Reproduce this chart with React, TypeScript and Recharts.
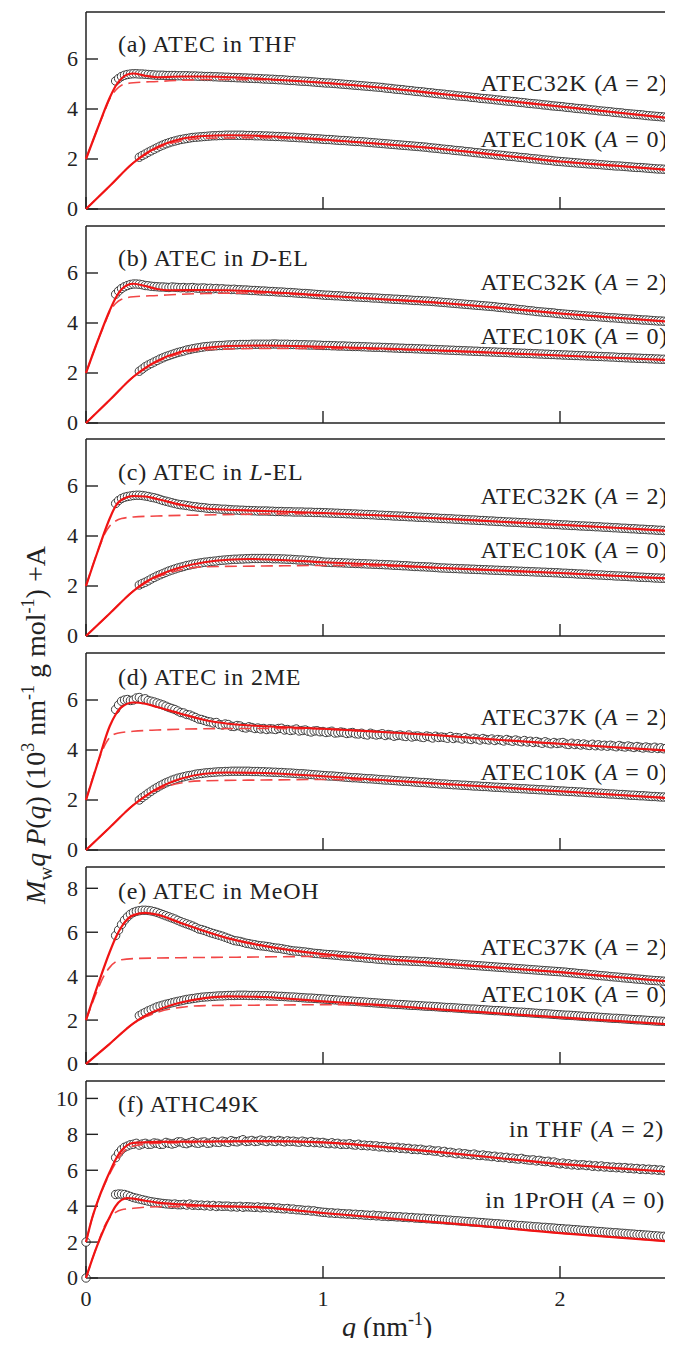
import React from 'react'
import { ComposedChart, Line, Scatter, XAxis, YAxis, ReferenceLine } from 'recharts'

const _ = null

// q of the measured points (nm^-1); first entry is the q = 0 point
const Q = [
  0,
  0.1, 0.1125, 0.125, 0.1375, 0.15, 0.1625, 0.175, 0.1875,
  0.2, 0.2125, 0.225, 0.2375, 0.25, 0.2625, 0.275, 0.2875,
  0.3, 0.3125, 0.325, 0.3375, 0.35, 0.3625, 0.375, 0.3875,
  0.4, 0.4125, 0.425, 0.4375, 0.45, 0.4625, 0.475, 0.4875,
  0.5, 0.5125, 0.525, 0.5375, 0.55, 0.5625, 0.575, 0.5875,
  0.6, 0.6125, 0.625, 0.6375, 0.65, 0.6625, 0.675, 0.6875,
  0.7, 0.7125, 0.725, 0.7375, 0.75, 0.7625, 0.775, 0.7875,
  0.8, 0.8125, 0.825, 0.8375, 0.85, 0.8625, 0.875, 0.8875,
  0.9, 0.9125, 0.925, 0.9375, 0.95, 0.9625, 0.975, 0.9875,
  1.0, 1.0125, 1.025, 1.0375, 1.05, 1.0625, 1.075, 1.0875,
  1.1, 1.1125, 1.125, 1.1375, 1.15, 1.1625, 1.175, 1.1875,
  1.2, 1.2125, 1.225, 1.2375, 1.25, 1.2625, 1.275, 1.2875,
  1.3, 1.3125, 1.325, 1.3375, 1.35, 1.3625, 1.375, 1.3875,
  1.4, 1.4125, 1.425, 1.4375, 1.45, 1.4625, 1.475, 1.4875,
  1.5, 1.5125, 1.525, 1.5375, 1.55, 1.5625, 1.575, 1.5875,
  1.6, 1.6125, 1.625, 1.6375, 1.65, 1.6625, 1.675, 1.6875,
  1.7, 1.7125, 1.725, 1.7375, 1.75, 1.7625, 1.775, 1.7875,
  1.8, 1.8125, 1.825, 1.8375, 1.85, 1.8625, 1.875, 1.8875,
  1.9, 1.9125, 1.925, 1.9375, 1.95, 1.9625, 1.975, 1.9875,
  2.0, 2.0125, 2.025, 2.0375, 2.05, 2.0625, 2.075, 2.0875,
  2.1, 2.1125, 2.125, 2.1375, 2.15, 2.1625, 2.175, 2.1875,
  2.2, 2.2125, 2.225, 2.2375, 2.25, 2.2625, 2.275, 2.2875,
  2.3, 2.3125, 2.325, 2.3375, 2.35, 2.3625, 2.375, 2.3875,
  2.4, 2.4125, 2.425, 2.4375, 2.45, 2.4625, 2.475, 2.4875,
]

// (a) ATEC in THF
const A_UP = [
  _,
  _, _, 5.12, 5.22, 5.3, 5.35, 5.38, 5.4,
  5.41, 5.41, 5.4, 5.4, 5.39, 5.38, 5.37, 5.36,
  5.35, 5.35, 5.35, 5.34, 5.34, 5.34, 5.34, 5.33,
  5.33, 5.33, 5.33, 5.32, 5.32, 5.32, 5.31, 5.31,
  5.3, 5.3, 5.3, 5.29, 5.29, 5.28, 5.28, 5.27,
  5.27, 5.26, 5.26, 5.25, 5.25, 5.24, 5.24, 5.23,
  5.23, 5.22, 5.22, 5.21, 5.2, 5.2, 5.19, 5.19,
  5.18, 5.17, 5.17, 5.16, 5.15, 5.14, 5.14, 5.13,
  5.12, 5.11, 5.11, 5.1, 5.09, 5.08, 5.07, 5.06,
  5.05, 5.04, 5.04, 5.03, 5.02, 5.01, 5.0, 4.99,
  4.98, 4.97, 4.96, 4.95, 4.94, 4.93, 4.92, 4.91,
  4.9, 4.89, 4.88, 4.87, 4.86, 4.84, 4.83, 4.82,
  4.8, 4.79, 4.78, 4.77, 4.75, 4.74, 4.73, 4.71,
  4.7, 4.69, 4.68, 4.66, 4.65, 4.64, 4.62, 4.61,
  4.6, 4.59, 4.57, 4.56, 4.55, 4.53, 4.52, 4.51,
  4.5, 4.49, 4.47, 4.46, 4.45, 4.43, 4.42, 4.41,
  4.4, 4.39, 4.37, 4.36, 4.35, 4.33, 4.32, 4.31,
  4.3, 4.29, 4.27, 4.26, 4.25, 4.23, 4.22, 4.21,
  4.2, 4.19, 4.17, 4.16, 4.15, 4.13, 4.12, 4.11,
  4.1, 4.09, 4.07, 4.06, 4.05, 4.03, 4.02, 4.01,
  4.0, 3.99, 3.97, 3.96, 3.95, 3.93, 3.92, 3.91,
  3.9, 3.89, 3.87, 3.86, 3.85, 3.84, 3.82, 3.81,
  3.8, 3.79, 3.78, 3.77, 3.76, 3.74, 3.73, 3.72,
  3.71, 3.7, 3.69, 3.68, 3.67, 3.66, 3.65, 3.64,
]
const A_LO = [
  _,
  _, _, _, _, _, _, _, _,
  _, _, 2.07, 2.14, 2.2, 2.27, 2.33, 2.39,
  2.45, 2.51, 2.56, 2.61, 2.65, 2.69, 2.72, 2.75,
  2.78, 2.8, 2.82, 2.84, 2.86, 2.87, 2.88, 2.89,
  2.9, 2.91, 2.92, 2.93, 2.93, 2.94, 2.94, 2.95,
  2.95, 2.95, 2.95, 2.95, 2.95, 2.95, 2.94, 2.94,
  2.94, 2.93, 2.93, 2.93, 2.92, 2.92, 2.91, 2.91,
  2.9, 2.9, 2.89, 2.89, 2.88, 2.87, 2.87, 2.86,
  2.85, 2.85, 2.84, 2.83, 2.82, 2.81, 2.81, 2.8,
  2.79, 2.78, 2.78, 2.77, 2.76, 2.75, 2.74, 2.74,
  2.73, 2.72, 2.71, 2.7, 2.7, 2.69, 2.68, 2.67,
  2.66, 2.65, 2.64, 2.63, 2.62, 2.61, 2.6, 2.59,
  2.58, 2.57, 2.56, 2.55, 2.54, 2.53, 2.52, 2.51,
  2.5, 2.49, 2.48, 2.47, 2.45, 2.44, 2.43, 2.42,
  2.4, 2.39, 2.38, 2.37, 2.35, 2.34, 2.33, 2.32,
  2.3, 2.29, 2.28, 2.26, 2.25, 2.24, 2.22, 2.21,
  2.2, 2.19, 2.17, 2.16, 2.15, 2.14, 2.12, 2.11,
  2.1, 2.09, 2.07, 2.06, 2.05, 2.04, 2.02, 2.01,
  2.0, 1.99, 1.97, 1.96, 1.95, 1.94, 1.92, 1.91,
  1.9, 1.89, 1.88, 1.87, 1.86, 1.85, 1.84, 1.83,
  1.82, 1.81, 1.8, 1.8, 1.79, 1.78, 1.77, 1.76,
  1.75, 1.74, 1.73, 1.72, 1.72, 1.71, 1.7, 1.69,
  1.68, 1.67, 1.66, 1.66, 1.65, 1.64, 1.63, 1.62,
  1.61, 1.6, 1.6, 1.59, 1.58, 1.57, 1.56, 1.56,
]

// (b) ATEC in D-EL
const B_UP = [
  _,
  _, _, 5.15, 5.28, 5.38, 5.45, 5.5, 5.54,
  5.56, 5.56, 5.55, 5.53, 5.5, 5.49, 5.47, 5.46,
  5.45, 5.44, 5.44, 5.43, 5.42, 5.44, 5.43, 5.42,
  5.41, 5.42, 5.4, 5.41, 5.42, 5.4, 5.39, 5.4,
  5.4, 5.38, 5.39, 5.37, 5.38, 5.36, 5.37, 5.35,
  5.35, 5.34, 5.35, 5.33, 5.33, 5.32, 5.32, 5.31,
  5.3, 5.3, 5.29, 5.28, 5.28, 5.27, 5.26, 5.26,
  5.25, 5.24, 5.24, 5.23, 5.22, 5.22, 5.21, 5.2,
  5.19, 5.18, 5.18, 5.17, 5.16, 5.15, 5.14, 5.13,
  5.12, 5.11, 5.11, 5.1, 5.09, 5.09, 5.08, 5.07,
  5.06, 5.06, 5.05, 5.04, 5.04, 5.03, 5.02, 5.02,
  5.01, 5.0, 5.0, 4.99, 4.98, 4.97, 4.97, 4.96,
  4.95, 4.95, 4.94, 4.93, 4.93, 4.92, 4.91, 4.9,
  4.9, 4.89, 4.88, 4.88, 4.87, 4.86, 4.85, 4.84,
  4.83, 4.82, 4.81, 4.8, 4.79, 4.78, 4.77, 4.76,
  4.75, 4.74, 4.73, 4.72, 4.71, 4.7, 4.69, 4.68,
  4.67, 4.66, 4.65, 4.63, 4.62, 4.61, 4.6, 4.58,
  4.57, 4.56, 4.54, 4.53, 4.52, 4.5, 4.49, 4.48,
  4.46, 4.45, 4.44, 4.43, 4.42, 4.41, 4.4, 4.38,
  4.37, 4.36, 4.35, 4.34, 4.33, 4.32, 4.31, 4.3,
  4.29, 4.28, 4.27, 4.27, 4.26, 4.25, 4.24, 4.23,
  4.22, 4.21, 4.21, 4.2, 4.19, 4.18, 4.17, 4.16,
  4.16, 4.15, 4.14, 4.13, 4.12, 4.12, 4.11, 4.1,
  4.09, 4.08, 4.08, 4.07, 4.06, 4.05, 4.04, 4.04,
]
const B_LO = [
  _,
  _, _, _, _, _, _, _, _,
  _, _, 2.07, 2.16, 2.25, 2.32, 2.38, 2.44,
  2.5, 2.56, 2.61, 2.66, 2.7, 2.74, 2.78, 2.82,
  2.85, 2.88, 2.92, 2.94, 2.97, 2.99, 3.01, 3.03,
  3.05, 3.06, 3.07, 3.08, 3.09, 3.1, 3.1, 3.11,
  3.12, 3.12, 3.13, 3.13, 3.14, 3.14, 3.14, 3.14,
  3.15, 3.15, 3.15, 3.15, 3.15, 3.15, 3.15, 3.16,
  3.16, 3.15, 3.15, 3.15, 3.15, 3.14, 3.14, 3.14,
  3.13, 3.13, 3.13, 3.12, 3.12, 3.12, 3.11, 3.11,
  3.1, 3.1, 3.1, 3.09, 3.09, 3.08, 3.08, 3.08,
  3.07, 3.07, 3.06, 3.06, 3.06, 3.05, 3.05, 3.04,
  3.04, 3.03, 3.03, 3.03, 3.02, 3.02, 3.01, 3.01,
  3.0, 3.0, 2.99, 2.99, 2.98, 2.98, 2.98, 2.97,
  2.97, 2.96, 2.96, 2.95, 2.95, 2.94, 2.94, 2.93,
  2.93, 2.92, 2.92, 2.91, 2.91, 2.9, 2.9, 2.89,
  2.89, 2.88, 2.88, 2.87, 2.87, 2.86, 2.86, 2.85,
  2.85, 2.84, 2.84, 2.83, 2.83, 2.82, 2.82, 2.81,
  2.81, 2.8, 2.8, 2.79, 2.79, 2.78, 2.78, 2.77,
  2.77, 2.76, 2.76, 2.75, 2.75, 2.74, 2.74, 2.73,
  2.73, 2.72, 2.72, 2.71, 2.71, 2.7, 2.7, 2.69,
  2.69, 2.68, 2.68, 2.67, 2.67, 2.66, 2.66, 2.65,
  2.65, 2.64, 2.64, 2.63, 2.62, 2.62, 2.61, 2.61,
  2.6, 2.6, 2.59, 2.59, 2.58, 2.58, 2.57, 2.57,
  2.56, 2.56, 2.55, 2.55, 2.54, 2.54, 2.53, 2.53,
]

// (c) ATEC in L-EL
const C_UP = [
  _,
  _, _, 5.3, 5.42, 5.5, 5.55, 5.58, 5.6,
  5.62, 5.63, 5.63, 5.62, 5.6, 5.58, 5.55, 5.53,
  5.5, 5.46, 5.42, 5.39, 5.36, 5.33, 5.3, 5.27,
  5.25, 5.24, 5.22, 5.2, 5.18, 5.17, 5.15, 5.14,
  5.13, 5.11, 5.1, 5.1, 5.09, 5.08, 5.07, 5.07,
  5.06, 5.05, 5.04, 5.04, 5.03, 5.03, 5.02, 5.02,
  5.01, 5.01, 5.0, 5.0, 5.0, 5.0, 4.99, 4.99,
  4.98, 4.98, 4.98, 4.97, 4.97, 4.97, 4.96, 4.96,
  4.96, 4.96, 4.95, 4.95, 4.95, 4.94, 4.94, 4.94,
  4.93, 4.93, 4.92, 4.92, 4.91, 4.91, 4.9, 4.9,
  4.89, 4.89, 4.88, 4.88, 4.87, 4.87, 4.86, 4.86,
  4.85, 4.85, 4.84, 4.83, 4.83, 4.82, 4.82, 4.81,
  4.8, 4.8, 4.79, 4.79, 4.78, 4.77, 4.77, 4.76,
  4.75, 4.75, 4.74, 4.74, 4.73, 4.72, 4.72, 4.71,
  4.7, 4.7, 4.69, 4.69, 4.68, 4.67, 4.67, 4.66,
  4.65, 4.65, 4.64, 4.64, 4.63, 4.62, 4.62, 4.61,
  4.6, 4.6, 4.59, 4.58, 4.58, 4.57, 4.56, 4.56,
  4.55, 4.55, 4.54, 4.53, 4.53, 4.52, 4.51, 4.51,
  4.5, 4.5, 4.49, 4.48, 4.48, 4.47, 4.46, 4.46,
  4.45, 4.44, 4.44, 4.43, 4.42, 4.42, 4.41, 4.4,
  4.4, 4.39, 4.39, 4.38, 4.37, 4.37, 4.36, 4.35,
  4.35, 4.34, 4.33, 4.33, 4.32, 4.31, 4.31, 4.3,
  4.29, 4.29, 4.28, 4.27, 4.27, 4.26, 4.25, 4.25,
  4.24, 4.23, 4.23, 4.22, 4.21, 4.21, 4.2, 4.19,
]
const C_LO = [
  _,
  _, _, _, _, _, _, _, _,
  _, _, 2.04, 2.1, 2.15, 2.21, 2.28, 2.34,
  2.4, 2.45, 2.5, 2.55, 2.6, 2.64, 2.68, 2.72,
  2.75, 2.78, 2.82, 2.84, 2.87, 2.89, 2.91, 2.93,
  2.95, 2.96, 2.98, 2.99, 3.0, 3.02, 3.03, 3.04,
  3.05, 3.06, 3.07, 3.07, 3.08, 3.08, 3.09, 3.09,
  3.1, 3.1, 3.1, 3.1, 3.1, 3.1, 3.1, 3.09,
  3.09, 3.09, 3.08, 3.08, 3.07, 3.07, 3.06, 3.05,
  3.04, 3.04, 3.03, 3.02, 3.01, 3.0, 2.99, 2.98,
  2.96, 2.95, 2.95, 2.94, 2.94, 2.93, 2.93, 2.92,
  2.92, 2.91, 2.91, 2.9, 2.9, 2.89, 2.89, 2.88,
  2.88, 2.87, 2.87, 2.86, 2.86, 2.85, 2.85, 2.84,
  2.83, 2.83, 2.82, 2.81, 2.81, 2.8, 2.79, 2.78,
  2.78, 2.77, 2.77, 2.76, 2.76, 2.75, 2.74, 2.73,
  2.72, 2.72, 2.71, 2.71, 2.7, 2.7, 2.69, 2.69,
  2.68, 2.68, 2.67, 2.67, 2.66, 2.66, 2.65, 2.65,
  2.64, 2.64, 2.63, 2.63, 2.62, 2.62, 2.61, 2.61,
  2.6, 2.6, 2.59, 2.59, 2.58, 2.58, 2.57, 2.57,
  2.56, 2.56, 2.55, 2.55, 2.54, 2.54, 2.53, 2.53,
  2.52, 2.51, 2.51, 2.5, 2.5, 2.49, 2.48, 2.48,
  2.47, 2.47, 2.46, 2.45, 2.45, 2.44, 2.44, 2.43,
  2.42, 2.42, 2.41, 2.4, 2.4, 2.39, 2.39, 2.38,
  2.37, 2.37, 2.36, 2.35, 2.35, 2.34, 2.34, 2.33,
  2.32, 2.32, 2.31, 2.31, 2.3, 2.3, 2.29, 2.29,
]

// (d) ATEC in 2ME
const D_UP = [
  _,
  _, _, 5.62, 5.8, 5.95, 6.0, 6.02, 5.98,
  6.0, 6.08, 6.1, 6.02, 6.05, 5.98, 5.95, 5.92,
  5.88, 5.84, 5.8, 5.75, 5.7, 5.66, 5.62, 5.56,
  5.5, 5.48, 5.42, 5.4, 5.35, 5.3, 5.24, 5.22,
  5.18, 5.14, 5.12, 5.08, 5.1, 5.02, 5.0, 5.04,
  5.02, 4.95, 4.94, 4.98, 4.96, 4.9, 4.88, 4.93,
  4.9, 4.86, 4.88, 4.84, 4.86, 4.82, 4.85, 4.84,
  4.82, 4.86, 4.87, 4.8, 4.82, 4.78, 4.8, 4.84,
  4.76, 4.78, 4.8, 4.75, 4.72, 4.76, 4.77, 4.73,
  4.74, 4.7, 4.72, 4.75, 4.68, 4.69, 4.72, 4.7,
  4.66, 4.68, 4.7, 4.65, 4.64, 4.67, 4.62, 4.6,
  4.67, 4.63, 4.6, 4.62, 4.65, 4.58, 4.62, 4.6,
  4.55, 4.58, 4.6, 4.56, 4.54, 4.6, 4.52, 4.55,
  4.56, 4.52, 4.5, 4.56, 4.53, 4.48, 4.55, 4.5,
  4.52, 4.5, 4.47, 4.54, 4.46, 4.5, 4.48, 4.44,
  4.5, 4.45, 4.42, 4.47, 4.44, 4.4, 4.46, 4.42,
  4.4, 4.44, 4.38, 4.42, 4.4, 4.36, 4.42, 4.38,
  4.35, 4.4, 4.36, 4.33, 4.38, 4.32, 4.35, 4.3,
  4.34, 4.3, 4.27, 4.33, 4.28, 4.25, 4.3, 4.26,
  4.28, 4.3, 4.24, 4.22, 4.27, 4.22, 4.25, 4.2,
  4.24, 4.2, 4.18, 4.23, 4.17, 4.21, 4.16, 4.19,
  4.15, 4.19, 4.16, 4.13, 4.18, 4.14, 4.12, 4.16,
  4.13, 4.1, 4.14, 4.11, 4.08, 4.12, 4.09, 4.07,
  4.11, 4.06, 4.09, 4.05, 4.08, 4.04, 4.07, 4.05,
]
const D_LO = [
  _,
  _, _, _, _, _, _, _, _,
  _, _, 2.0, 2.1, 2.18, 2.27, 2.35, 2.43,
  2.5, 2.57, 2.63, 2.69, 2.74, 2.79, 2.83, 2.87,
  2.9, 2.93, 2.96, 2.98, 3.0, 3.03, 3.05, 3.06,
  3.08, 3.09, 3.1, 3.11, 3.12, 3.13, 3.13, 3.14,
  3.14, 3.15, 3.15, 3.15, 3.15, 3.15, 3.15, 3.15,
  3.14, 3.14, 3.14, 3.13, 3.13, 3.12, 3.12, 3.11,
  3.11, 3.1, 3.1, 3.09, 3.08, 3.08, 3.07, 3.06,
  3.05, 3.05, 3.04, 3.03, 3.02, 3.01, 3.0, 2.99,
  2.98, 2.97, 2.96, 2.96, 2.95, 2.94, 2.93, 2.92,
  2.91, 2.9, 2.89, 2.89, 2.88, 2.87, 2.86, 2.85,
  2.85, 2.84, 2.83, 2.82, 2.81, 2.8, 2.8, 2.79,
  2.78, 2.77, 2.76, 2.75, 2.75, 2.74, 2.73, 2.72,
  2.71, 2.7, 2.7, 2.69, 2.68, 2.67, 2.66, 2.65,
  2.64, 2.64, 2.63, 2.62, 2.61, 2.61, 2.6, 2.59,
  2.59, 2.58, 2.57, 2.56, 2.56, 2.55, 2.54, 2.54,
  2.53, 2.52, 2.51, 2.51, 2.5, 2.49, 2.49, 2.48,
  2.47, 2.47, 2.46, 2.45, 2.45, 2.44, 2.43, 2.43,
  2.42, 2.41, 2.41, 2.4, 2.39, 2.39, 2.38, 2.37,
  2.36, 2.36, 2.35, 2.34, 2.34, 2.33, 2.32, 2.32,
  2.31, 2.3, 2.29, 2.29, 2.28, 2.27, 2.27, 2.26,
  2.25, 2.24, 2.24, 2.23, 2.22, 2.22, 2.21, 2.2,
  2.19, 2.19, 2.18, 2.17, 2.17, 2.16, 2.15, 2.14,
  2.14, 2.13, 2.12, 2.12, 2.11, 2.1, 2.1, 2.09,
]

// (e) ATEC in MeOH
const E_UP = [
  _,
  _, _, 5.85, 6.1, 6.35, 6.55, 6.7, 6.82,
  6.9, 6.95, 6.98, 7.0, 7.0, 6.99, 6.97, 6.94,
  6.9, 6.85, 6.8, 6.75, 6.7, 6.65, 6.6, 6.54,
  6.48, 6.43, 6.38, 6.33, 6.28, 6.22, 6.15, 6.12,
  6.08, 6.03, 5.98, 5.94, 5.9, 5.86, 5.82, 5.77,
  5.72, 5.67, 5.62, 5.6, 5.58, 5.54, 5.5, 5.48,
  5.45, 5.43, 5.4, 5.38, 5.37, 5.35, 5.33, 5.3,
  5.28, 5.27, 5.25, 5.22, 5.2, 5.17, 5.15, 5.14,
  5.13, 5.11, 5.1, 5.08, 5.06, 5.04, 5.03, 5.02,
  5.0, 4.99, 4.98, 4.97, 4.96, 4.95, 4.93, 4.92,
  4.91, 4.9, 4.88, 4.87, 4.86, 4.85, 4.83, 4.82,
  4.81, 4.8, 4.78, 4.77, 4.76, 4.75, 4.74, 4.73,
  4.72, 4.71, 4.71, 4.7, 4.7, 4.69, 4.68, 4.68,
  4.67, 4.66, 4.66, 4.65, 4.64, 4.63, 4.62, 4.61,
  4.6, 4.59, 4.58, 4.57, 4.56, 4.55, 4.54, 4.53,
  4.52, 4.51, 4.5, 4.49, 4.48, 4.47, 4.46, 4.45,
  4.44, 4.43, 4.42, 4.41, 4.4, 4.39, 4.38, 4.37,
  4.36, 4.35, 4.34, 4.33, 4.32, 4.31, 4.3, 4.29,
  4.28, 4.27, 4.26, 4.25, 4.24, 4.23, 4.22, 4.21,
  4.2, 4.19, 4.18, 4.16, 4.15, 4.14, 4.12, 4.11,
  4.1, 4.09, 4.07, 4.06, 4.05, 4.03, 4.02, 4.01,
  4.0, 3.98, 3.97, 3.96, 3.95, 3.93, 3.92, 3.91,
  3.9, 3.88, 3.87, 3.86, 3.85, 3.83, 3.82, 3.81,
  3.8, 3.79, 3.78, 3.77, 3.76, 3.75, 3.74, 3.73,
]
const E_LO = [
  _,
  _, _, _, _, _, _, _, _,
  _, _, 2.2, 2.28, 2.35, 2.42, 2.48, 2.54,
  2.6, 2.64, 2.68, 2.72, 2.75, 2.79, 2.82, 2.85,
  2.88, 2.91, 2.94, 2.96, 2.98, 3.0, 3.02, 3.04,
  3.05, 3.06, 3.07, 3.08, 3.09, 3.1, 3.1, 3.11,
  3.12, 3.12, 3.12, 3.13, 3.13, 3.13, 3.13, 3.12,
  3.12, 3.12, 3.12, 3.11, 3.11, 3.11, 3.1, 3.1,
  3.09, 3.08, 3.08, 3.07, 3.06, 3.05, 3.05, 3.04,
  3.03, 3.02, 3.01, 3.0, 3.0, 2.99, 2.98, 2.97,
  2.96, 2.95, 2.94, 2.93, 2.92, 2.91, 2.9, 2.89,
  2.88, 2.87, 2.86, 2.85, 2.84, 2.83, 2.82, 2.81,
  2.8, 2.79, 2.78, 2.77, 2.76, 2.75, 2.74, 2.73,
  2.72, 2.71, 2.71, 2.7, 2.69, 2.68, 2.67, 2.67,
  2.66, 2.65, 2.64, 2.63, 2.63, 2.62, 2.61, 2.6,
  2.59, 2.58, 2.57, 2.57, 2.56, 2.55, 2.54, 2.53,
  2.52, 2.51, 2.5, 2.5, 2.49, 2.48, 2.47, 2.46,
  2.45, 2.44, 2.43, 2.43, 2.42, 2.41, 2.4, 2.39,
  2.38, 2.37, 2.36, 2.36, 2.35, 2.34, 2.33, 2.32,
  2.31, 2.3, 2.29, 2.29, 2.28, 2.27, 2.26, 2.25,
  2.24, 2.23, 2.22, 2.22, 2.21, 2.2, 2.19, 2.18,
  2.17, 2.16, 2.15, 2.15, 2.14, 2.13, 2.12, 2.11,
  2.1, 2.09, 2.08, 2.08, 2.07, 2.06, 2.05, 2.04,
  2.03, 2.02, 2.01, 2.01, 2.0, 1.99, 1.98, 1.97,
  1.96, 1.95, 1.95, 1.94, 1.93, 1.93, 1.92, 1.91,
]

// (f) ATHC49K, in THF (A = 2) and in 1PrOH (A = 0)
const F_UP = [
  2,
  _, _, 6.7, 6.95, 7.15, 7.28, 7.35, 7.42,
  7.45, 7.5, 7.4, 7.46, 7.5, 7.44, 7.45, 7.52,
  7.5, 7.44, 7.45, 7.55, 7.5, 7.46, 7.5, 7.58,
  7.58, 7.5, 7.48, 7.54, 7.6, 7.52, 7.5, 7.56,
  7.58, 7.5, 7.52, 7.6, 7.56, 7.55, 7.62, 7.58,
  7.55, 7.65, 7.6, 7.58, 7.64, 7.7, 7.6, 7.62,
  7.66, 7.6, 7.62, 7.68, 7.64, 7.6, 7.66, 7.62,
  7.6, 7.66, 7.62, 7.58, 7.64, 7.6, 7.62, 7.58,
  7.56, 7.62, 7.58, 7.55, 7.6, 7.54, 7.56, 7.52,
  7.55, 7.5, 7.48, 7.53, 7.47, 7.5, 7.44, 7.46,
  7.44, 7.48, 7.42, 7.4, 7.45, 7.38, 7.4, 7.36,
  7.38, 7.34, 7.36, 7.3, 7.32, 7.3, 7.26, 7.28,
  7.25, 7.28, 7.22, 7.24, 7.2, 7.22, 7.16, 7.18,
  7.15, 7.17, 7.12, 7.1, 7.13, 7.08, 7.06, 7.08,
  7.0, 7.05, 6.98, 7.0, 6.96, 6.92, 6.96, 6.9,
  6.92, 6.88, 6.86, 6.9, 6.84, 6.82, 6.85, 6.8,
  6.8, 6.76, 6.78, 6.72, 6.74, 6.7, 6.72, 6.66,
  6.68, 6.64, 6.62, 6.66, 6.6, 6.58, 6.56, 6.58,
  6.52, 6.55, 6.5, 6.48, 6.5, 6.44, 6.46, 6.4,
  6.36, 6.4, 6.34, 6.36, 6.3, 6.33, 6.28, 6.3,
  6.3, 6.26, 6.28, 6.22, 6.25, 6.2, 6.24, 6.18,
  6.2, 6.16, 6.18, 6.14, 6.16, 6.12, 6.15, 6.1,
  6.12, 6.08, 6.1, 6.05, 6.08, 6.04, 6.06, 6.02,
  6.04, 6.0, 6.02, 5.98, 6.0, 5.96, 5.98, 5.94,
]
const F_LO = [
  0,
  _, _, 4.65, 4.68, 4.67, 4.65, 4.6, 4.54,
  4.48, 4.44, 4.4, 4.36, 4.32, 4.28, 4.25, 4.22,
  4.2, 4.17, 4.15, 4.13, 4.12, 4.1, 4.12, 4.08,
  4.08, 4.1, 4.06, 4.12, 4.05, 4.07, 4.04, 4.06,
  4.02, 4.05, 4.0, 4.04, 3.98, 4.02, 3.99, 4.0,
  4.0, 3.96, 3.98, 3.95, 3.99, 3.94, 3.97, 3.96,
  3.95, 3.93, 3.96, 3.91, 3.94, 3.92, 3.9, 3.92,
  3.88, 3.9, 3.86, 3.85, 3.87, 3.83, 3.84, 3.8,
  3.8, 3.78, 3.76, 3.77, 3.73, 3.74, 3.7, 3.68,
  3.66, 3.65, 3.62, 3.63, 3.6, 3.61, 3.58, 3.58,
  3.56, 3.57, 3.54, 3.55, 3.52, 3.53, 3.5, 3.5,
  3.48, 3.5, 3.46, 3.47, 3.44, 3.45, 3.42, 3.43,
  3.42, 3.4, 3.41, 3.38, 3.39, 3.36, 3.37, 3.34,
  3.34, 3.32, 3.33, 3.3, 3.3, 3.28, 3.28, 3.26,
  3.25, 3.24, 3.22, 3.22, 3.2, 3.19, 3.18, 3.16,
  3.15, 3.14, 3.12, 3.12, 3.1, 3.09, 3.08, 3.06,
  3.05, 3.04, 3.02, 3.02, 3.0, 2.99, 2.98, 2.96,
  2.95, 2.94, 2.92, 2.92, 2.9, 2.89, 2.88, 2.86,
  2.85, 2.84, 2.82, 2.82, 2.8, 2.79, 2.78, 2.76,
  2.75, 2.74, 2.72, 2.72, 2.7, 2.69, 2.68, 2.66,
  2.65, 2.64, 2.62, 2.62, 2.6, 2.59, 2.58, 2.56,
  2.55, 2.54, 2.52, 2.52, 2.5, 2.49, 2.48, 2.46,
  2.45, 2.44, 2.42, 2.42, 2.4, 2.39, 2.38, 2.36,
  2.35, 2.34, 2.32, 2.32, 2.3, 2.29, 2.28, 2.26,
]

// model curves as [q, value]: FIT = solid line, DASH = dashed line
const A_FIT_UP = [[0, 2], [0.05, 3.25], [0.1, 4.45], [0.125, 4.92], [0.15, 5.22], [0.175, 5.38], [0.2, 5.42], [0.25, 5.33], [0.3, 5.27], [0.4, 5.3], [0.5, 5.3], [0.75, 5.2], [1, 5.05], [1.25, 4.85], [1.5, 4.6], [1.75, 4.35], [2, 4.1], [2.25, 3.85], [2.5, 3.6]]
const A_DASH_UP = [[0, 2], [0.05, 3.25], [0.08, 3.95], [0.1, 4.4], [0.125, 4.75], [0.15, 4.95], [0.2, 5.05], [0.3, 5.1], [0.5, 5.18], [0.75, 5.17], [1, 5.05], [1.25, 4.85], [1.5, 4.6], [1.75, 4.35], [2, 4.1], [2.25, 3.85], [2.5, 3.6]]
const A_FIT_LO = [[0, 0], [0.1, 0.92], [0.2, 1.85], [0.25, 2.2], [0.3, 2.47], [0.4, 2.8], [0.5, 2.92], [0.6, 2.95], [0.75, 2.92], [1, 2.78], [1.25, 2.6], [1.5, 2.4], [1.75, 2.15], [2, 1.9], [2.25, 1.72], [2.5, 1.53]]
const A_DASH_LO = [[0, 0], [0.1, 0.92], [0.2, 1.85], [0.3, 2.43], [0.4, 2.72], [0.5, 2.83], [0.75, 2.85], [1, 2.75], [1.25, 2.6], [1.5, 2.4], [1.75, 2.15], [2, 1.9], [2.25, 1.72], [2.5, 1.53]]

const B_FIT_UP = [[0, 2], [0.05, 3.3], [0.1, 4.5], [0.125, 5.0], [0.15, 5.35], [0.175, 5.52], [0.2, 5.57], [0.25, 5.48], [0.3, 5.36], [0.35, 5.31], [0.5, 5.32], [0.75, 5.25], [1, 5.1], [1.25, 4.95], [1.5, 4.8], [1.75, 4.6], [2, 4.38], [2.25, 4.2], [2.5, 4.02]]
const B_DASH_UP = [[0, 2], [0.05, 3.3], [0.08, 4.0], [0.1, 4.45], [0.125, 4.78], [0.15, 4.95], [0.2, 5.05], [0.3, 5.1], [0.5, 5.18], [0.75, 5.2], [1, 5.08], [1.25, 4.95], [1.5, 4.8], [1.75, 4.6], [2, 4.38], [2.25, 4.2], [2.5, 4.02]]
const B_FIT_LO = [[0, 0], [0.1, 0.92], [0.2, 1.85], [0.25, 2.2], [0.3, 2.48], [0.4, 2.85], [0.5, 3.0], [0.6, 3.08], [0.75, 3.1], [1, 3.05], [1.25, 2.98], [1.5, 2.9], [1.75, 2.8], [2, 2.7], [2.25, 2.6], [2.5, 2.5]]
const B_DASH_LO = [[0, 0], [0.1, 0.92], [0.2, 1.85], [0.3, 2.45], [0.4, 2.78], [0.5, 2.93], [0.75, 2.98], [1, 2.98], [1.25, 2.95], [1.5, 2.88], [1.75, 2.79], [2, 2.7], [2.25, 2.6], [2.5, 2.5]]

const C_FIT_UP = [[0, 2], [0.05, 3.4], [0.1, 4.7], [0.125, 5.2], [0.15, 5.45], [0.2, 5.6], [0.25, 5.58], [0.3, 5.48], [0.4, 5.25], [0.5, 5.1], [0.75, 5.0], [1, 4.92], [1.25, 4.82], [1.5, 4.7], [1.75, 4.57], [2, 4.45], [2.25, 4.32], [2.5, 4.18]]
const C_DASH_UP = [[0, 2], [0.05, 3.4], [0.08, 4.1], [0.1, 4.4], [0.125, 4.6], [0.15, 4.7], [0.2, 4.76], [0.3, 4.8], [0.5, 4.84], [0.75, 4.88], [1, 4.9], [1.25, 4.82], [1.5, 4.7], [1.75, 4.57], [2, 4.45], [2.25, 4.32], [2.5, 4.18]]
const C_FIT_LO = [[0, 0], [0.1, 0.9], [0.2, 1.8], [0.25, 2.15], [0.3, 2.4], [0.4, 2.75], [0.5, 2.95], [0.6, 3.05], [0.7, 3.08], [0.8, 3.05], [1, 2.95], [1.25, 2.85], [1.5, 2.72], [1.75, 2.62], [2, 2.52], [2.25, 2.4], [2.5, 2.28]]
const C_DASH_LO = [[0, 0], [0.1, 0.9], [0.2, 1.8], [0.3, 2.35], [0.4, 2.65], [0.5, 2.77], [0.75, 2.8], [1, 2.82], [1.25, 2.8], [1.5, 2.72], [1.75, 2.62], [2, 2.52], [2.25, 2.4], [2.5, 2.28]]

const D_FIT_UP = [[0, 2], [0.05, 3.5], [0.1, 4.95], [0.125, 5.42], [0.15, 5.72], [0.2, 5.9], [0.25, 5.85], [0.3, 5.72], [0.4, 5.45], [0.5, 5.2], [0.6, 5.05], [0.75, 4.95], [1, 4.85], [1.25, 4.72], [1.5, 4.58], [1.75, 4.4], [2, 4.25], [2.25, 4.1], [2.5, 3.95]]
const D_DASH_UP = [[0, 2], [0.05, 3.5], [0.08, 4.2], [0.1, 4.5], [0.125, 4.65], [0.15, 4.7], [0.2, 4.75], [0.3, 4.8], [0.5, 4.85], [0.75, 4.86], [1, 4.84], [1.25, 4.72], [1.5, 4.58], [1.75, 4.4], [2, 4.25], [2.25, 4.1], [2.5, 3.95]]
const D_FIT_LO = [[0, 0], [0.1, 0.9], [0.2, 1.8], [0.25, 2.15], [0.3, 2.45], [0.4, 2.85], [0.5, 3.05], [0.6, 3.1], [0.75, 3.08], [1, 2.95], [1.25, 2.8], [1.5, 2.65], [1.75, 2.5], [2, 2.35], [2.25, 2.2], [2.5, 2.05]]
const D_DASH_LO = [[0, 0], [0.1, 0.9], [0.2, 1.8], [0.3, 2.4], [0.4, 2.68], [0.5, 2.77], [0.75, 2.8], [1, 2.82], [1.25, 2.77], [1.5, 2.64], [1.75, 2.5], [2, 2.35], [2.25, 2.2], [2.5, 2.05]]

const E_FIT_UP = [[0, 2], [0.05, 3.6], [0.1, 5.1], [0.125, 5.75], [0.15, 6.25], [0.2, 6.78], [0.25, 6.88], [0.3, 6.8], [0.4, 6.42], [0.5, 6.05], [0.6, 5.72], [0.75, 5.38], [1, 5.0], [1.25, 4.78], [1.5, 4.58], [1.75, 4.38], [2, 4.18], [2.25, 3.95], [2.5, 3.72]]
const E_DASH_UP = [[0, 2], [0.05, 3.4], [0.075, 4.0], [0.1, 4.4], [0.125, 4.65], [0.15, 4.75], [0.2, 4.8], [0.4, 4.84], [0.6, 4.86], [0.8, 4.88], [1, 4.9], [1.25, 4.76], [1.5, 4.57], [1.75, 4.38], [2, 4.18], [2.25, 3.95], [2.5, 3.72]]
const E_FIT_LO = [[0, 0], [0.1, 0.92], [0.2, 1.85], [0.25, 2.2], [0.3, 2.45], [0.4, 2.8], [0.5, 3.0], [0.6, 3.08], [0.75, 3.05], [1, 2.85], [1.25, 2.68], [1.5, 2.48], [1.75, 2.3], [2, 2.12], [2.25, 1.95], [2.5, 1.77]]
const E_DASH_LO = [[0, 0], [0.1, 0.92], [0.2, 1.85], [0.3, 2.35], [0.4, 2.58], [0.5, 2.66], [0.75, 2.68], [1, 2.7], [1.1, 2.7], [1.25, 2.66], [1.5, 2.48], [1.75, 2.3], [2, 2.12], [2.25, 1.95], [2.5, 1.77]]

const F_FIT_UP = [[0, 2], [0.025, 3.3], [0.05, 4.3], [0.075, 5.15], [0.1, 5.9], [0.125, 6.6], [0.15, 7.1], [0.175, 7.4], [0.2, 7.52], [0.3, 7.58], [0.5, 7.6], [0.75, 7.62], [1, 7.55], [1.25, 7.3], [1.5, 7.0], [1.75, 6.67], [2, 6.35], [2.25, 6.1], [2.5, 5.88]]
const F_DASH_UP = [[0, 2], [0.025, 3.3], [0.05, 4.3], [0.075, 5.1], [0.1, 5.8], [0.125, 6.4], [0.15, 6.9], [0.2, 7.35], [0.3, 7.5], [0.5, 7.56], [0.75, 7.6], [1, 7.55], [1.25, 7.3], [1.5, 7.0], [1.75, 6.67], [2, 6.35], [2.25, 6.1], [2.5, 5.88]]
const F_FIT_LO = [[0, 0], [0.025, 1.0], [0.05, 1.9], [0.075, 2.7], [0.1, 3.4], [0.125, 4.0], [0.15, 4.35], [0.175, 4.45], [0.2, 4.42], [0.25, 4.3], [0.3, 4.2], [0.4, 4.1], [0.5, 4.03], [0.75, 3.93], [1, 3.62], [1.25, 3.35], [1.5, 3.08], [1.75, 2.8], [2, 2.5], [2.25, 2.25], [2.5, 2.0]]
const F_DASH_LO = [[0, 0], [0.025, 1.0], [0.05, 1.9], [0.075, 2.8], [0.1, 3.35], [0.125, 3.65], [0.15, 3.8], [0.2, 3.88], [0.3, 3.97], [0.5, 3.98], [0.75, 3.9], [1, 3.62], [1.25, 3.35], [1.5, 3.08], [1.75, 2.8], [2, 2.5], [2.25, 2.25], [2.5, 2.0]]

const Y_MAX = [7.88, 7.88, 7.88, 7.88, 8.97, 10.97]
const Y_TICKS = [[0, 2, 4, 6], [0, 2, 4, 6], [0, 2, 4, 6], [0, 2, 4, 6], [0, 2, 4, 6, 8], [0, 2, 4, 6, 8, 10]]
const X_TICKS = [0, 1, 2]

// text pieces: [text, italic]
const TITLES = [
  [['(a) ATEC in THF']],
  [['(b) ATEC in '], ['D', true], ['-EL']],
  [['(c) ATEC in '], ['L', true], ['-EL']],
  [['(d) ATEC in 2ME']],
  [['(e) ATEC in MeOH']],
  [['(f) ATHC49K']],
]
const UP_LABELS = ['ATEC32K', 'ATEC32K', 'ATEC32K', 'ATEC37K', 'ATEC37K', 'in THF']
const LO_LABELS = ['ATEC10K', 'ATEC10K', 'ATEC10K', 'ATEC10K', 'ATEC10K', 'in 1PrOH']

const PANELS = [
  { up: A_UP, lo: A_LO, fitUp: A_FIT_UP, dashUp: A_DASH_UP, fitLo: A_FIT_LO, dashLo: A_DASH_LO },
  { up: B_UP, lo: B_LO, fitUp: B_FIT_UP, dashUp: B_DASH_UP, fitLo: B_FIT_LO, dashLo: B_DASH_LO },
  { up: C_UP, lo: C_LO, fitUp: C_FIT_UP, dashUp: C_DASH_UP, fitLo: C_FIT_LO, dashLo: C_DASH_LO },
  { up: D_UP, lo: D_LO, fitUp: D_FIT_UP, dashUp: D_DASH_UP, fitLo: D_FIT_LO, dashLo: D_DASH_LO },
  { up: E_UP, lo: E_LO, fitUp: E_FIT_UP, dashUp: E_DASH_UP, fitLo: E_FIT_LO, dashLo: E_DASH_LO },
  { up: F_UP, lo: F_LO, fitUp: F_FIT_UP, dashUp: F_DASH_UP, fitLo: F_FIT_LO, dashLo: F_DASH_LO },
]

// layout (px)
const TOP0 = 12
const STEP = 213.7
const PLOT_H = 197
const M_TOP = 10
const CHART_W = 700
const CHART_H = PLOT_H + M_TOP + 40
const MARGIN = { top: M_TOP, right: 21.5, bottom: 0, left: 0 }
const TITLE_DY = [40, 40, 41, 32, 32, 31]
const UP_DY = [78.7, 64, 65, 71.7, 88, 56.3]
const LO_DY = [134.7, 118.4, 119, 126.7, 134.7, 127.3]
const LABEL_X = [668, 668, 668, 668, 668, 664]

const RED = '#f01414'
const RED_DASH = '#f24646'
const INK = '#222'
const SERIF = '"Liberation Serif", "Times New Roman", serif'

const toPts = (ys: (number | null)[]) =>
  Q.map((q, i) => ({ q, y: ys[i] })).filter((p) => p.y !== null && p.y !== undefined)
const toLine = (pairs: number[][]) => pairs.map(([q, y]) => ({ q, y }))

const Ring = (p: any) => (
  <circle cx={p.cx} cy={p.cy} r={4.2} fill="#fff" stroke="#2a2a2a" strokeWidth={0.9} />
)

const YTick = (p: any) => (
  <g>
    <line x1={p.x} y1={p.y} x2={p.x + 12} y2={p.y} stroke={INK} strokeWidth={1.4} />
    <text x={p.x - 8} y={p.y} dy="0.34em" textAnchor="end" fontSize={22} fontFamily={SERIF} fill={INK}>
      {p.payload.value}
    </text>
  </g>
)

const makeXTick = (showLabel: boolean) => (p: any) => (
  <g>
    <line x1={p.x} y1={p.y} x2={p.x} y2={p.y - 12} stroke={INK} strokeWidth={1.4} />
    {showLabel && (
      <text x={p.x} y={p.y + 28} textAnchor="middle" fontSize={22} fontFamily={SERIF} fill={INK}>
        {p.payload.value}
      </text>
    )}
  </g>
)

function Panel({ idx }: { idx: number }) {
  const p = PANELS[idx]
  const ymax = Y_MAX[idx]
  const top = TOP0 + idx * STEP - M_TOP
  return (
    <>
      {/* frame, ticks and measured points */}
      <div style={{ position: 'absolute', left: 0, top }}>
        <ComposedChart width={CHART_W} height={CHART_H} margin={MARGIN}>
          <XAxis
            dataKey="q"
            type="number"
            domain={[0, 2.5]}
            ticks={X_TICKS}
            interval={0}
            height={40}
            axisLine={{ stroke: INK, strokeWidth: 1.5 }}
            tickLine={false}
            tickSize={0}
            tickMargin={0}
            tick={makeXTick(idx === 5)}
          />
          <YAxis
            dataKey="y"
            type="number"
            domain={[0, ymax]}
            ticks={Y_TICKS[idx]}
            interval={0}
            width={86}
            axisLine={{ stroke: INK, strokeWidth: 1.5 }}
            tickLine={false}
            tickSize={0}
            tickMargin={0}
            tick={YTick}
          />
          <ReferenceLine y={ymax} stroke={INK} strokeWidth={1.5} />
          <Scatter data={toPts(p.up)} dataKey="y" shape={Ring} isAnimationActive={false} />
          <Scatter data={toPts(p.lo)} dataKey="y" shape={Ring} isAnimationActive={false} />
        </ComposedChart>
      </div>
      {/* model curves drawn over the points */}
      <div style={{ position: 'absolute', left: 0, top }}>
        <ComposedChart width={CHART_W} height={CHART_H} margin={MARGIN}>
          <XAxis dataKey="q" type="number" domain={[0, 2.5]} height={40} axisLine={false} tickLine={false} tick={false} />
          <YAxis dataKey="y" type="number" domain={[0, ymax]} width={86} axisLine={false} tickLine={false} tick={false} />
          <Line data={toLine(p.dashUp)} dataKey="y" type="monotone" stroke={RED_DASH} strokeWidth={1.6} strokeDasharray="12 6" dot={false} activeDot={false} isAnimationActive={false} />
          <Line data={toLine(p.dashLo)} dataKey="y" type="monotone" stroke={RED_DASH} strokeWidth={1.6} strokeDasharray="12 6" dot={false} activeDot={false} isAnimationActive={false} />
          <Line data={toLine(p.fitUp)} dataKey="y" type="monotone" stroke={RED} strokeWidth={2.2} dot={false} activeDot={false} isAnimationActive={false} />
          <Line data={toLine(p.fitLo)} dataKey="y" type="monotone" stroke={RED} strokeWidth={2.2} dot={false} activeDot={false} isAnimationActive={false} />
        </ComposedChart>
      </div>
    </>
  )
}

const Seg = ({ parts }: { parts: any[] }) => (
  <>
    {parts.map(([t, it]: any, i: number) => (
      <tspan key={i} fontStyle={it ? 'italic' : 'normal'}>{t}</tspan>
    ))}
  </>
)

export default function App() {
  return (
    <div style={{ position: 'relative', margin: -8, width: 673, height: 1346, overflow: 'hidden', background: '#fff' }}>
      {PANELS.map((_p, i) => (
        <Panel key={i} idx={i} />
      ))}
      <svg width={673} height={1346} style={{ position: 'absolute', left: 0, top: 0, pointerEvents: 'none' }}>
        <g fontFamily={SERIF} fontSize={24} fill={INK} letterSpacing={0.8} style={{ whiteSpace: 'pre' }}>
          {TITLES.map((t, i) => (
            <text key={'t' + i} x={118} y={TOP0 + i * STEP + TITLE_DY[i]}>
              <Seg parts={t} />
            </text>
          ))}
          {UP_LABELS.map((l, i) => (
            <text key={'u' + i} x={LABEL_X[i]} y={TOP0 + i * STEP + UP_DY[i]} textAnchor="end">
              <Seg parts={[[l + ' ('], ['A', true], [' = 2)']]} />
            </text>
          ))}
          {LO_LABELS.map((l, i) => (
            <text key={'l' + i} x={LABEL_X[i] + (i === 5 ? 1 : 0)} y={TOP0 + i * STEP + LO_DY[i]} textAnchor="end">
              <Seg parts={[[l + ' ('], ['A', true], [' = 0)']]} />
            </text>
          ))}
        </g>
        <text
          transform="translate(45,725) rotate(-90)"
          textAnchor="middle"
          fontFamily={SERIF}
          fontSize={28}
          fill={INK}
          style={{ whiteSpace: 'pre' }}
        >
          <tspan fontStyle="italic">M</tspan>
          <tspan fontSize={19} dy={7}>w</tspan>
          <tspan fontStyle="italic" dy={-7}>q</tspan>
          <tspan> </tspan>
          <tspan fontStyle="italic">P</tspan>
          <tspan>(</tspan>
          <tspan fontStyle="italic">q</tspan>
          <tspan>) (10</tspan>
          <tspan fontSize={18} dy={-11}>3</tspan>
          <tspan dy={11}> nm</tspan>
          <tspan fontSize={18} dy={-11}>-1</tspan>
          <tspan dy={11}> g mol</tspan>
          <tspan fontSize={18} dy={-11}>-1</tspan>
          <tspan dy={11}>) +A</tspan>
        </text>
        <text x={342} y={1336} fontFamily={SERIF} fontSize={28} fill={INK} style={{ whiteSpace: 'pre' }}>
          <tspan fontStyle="italic">q</tspan>
          <tspan> (nm</tspan>
          <tspan fontSize={18} dy={-11}>-1</tspan>
          <tspan dy={11}>)</tspan>
        </text>
      </svg>
    </div>
  )
}
